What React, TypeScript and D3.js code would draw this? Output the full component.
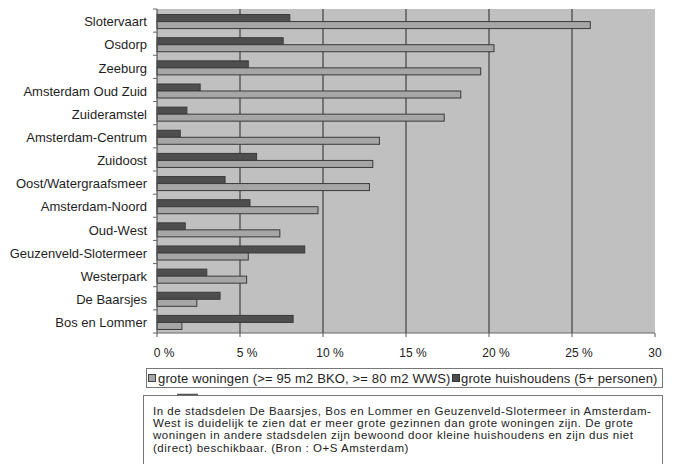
import React from "react";
import * as d3 from "d3";

// Stadsdelen, top to bottom
const categories = [
  "Slotervaart",
  "Osdorp",
  "Zeeburg",
  "Amsterdam Oud Zuid",
  "Zuideramstel",
  "Amsterdam-Centrum",
  "Zuidoost",
  "Oost/Watergraafsmeer",
  "Amsterdam-Noord",
  "Oud-West",
  "Geuzenveld-Slotermeer",
  "Westerpark",
  "De Baarsjes",
  "Bos en Lommer",
];

// Percentage of large dwellings (>= 95 m2 BKO, >= 80 m2 WWS)
const groteWoningen = [26.1, 20.3, 19.5, 18.3, 17.3, 13.4, 13.0, 12.8, 9.7, 7.4, 5.5, 5.4, 2.4, 1.5];
// Percentage of large households (5+ persons)
const groteHuishoudens = [8.0, 7.6, 5.5, 2.6, 1.8, 1.4, 6.0, 4.1, 5.6, 1.7, 8.9, 3.0, 3.8, 8.2];

const tickValues = [0, 5, 10, 15, 20, 25, 30];
const tickLabels = ["0", "5", "10", "15", "20", "25", "30"];
const tickSuffix = [" %", " %", " %", " %", " %", " %", ""];

const legendLabels = [
  "grote woningen (>= 95 m2 BKO, >= 80 m2 WWS)",
  "grote huishoudens (5+ personen)",
];

const noteLines = [
  "In de stadsdelen De Baarsjes, Bos en Lommer en Geuzenveld-Slotermeer in Amsterdam-",
  "West is duidelijk te zien dat er meer grote gezinnen dan grote woningen zijn. De grote",
  "woningen in andere stadsdelen zijn bewoond door kleine huishoudens en zijn dus niet",
  "(direct) beschikbaar. (Bron : O+S Amsterdam)",
];

const W = 674;
const H = 464;
const plot = { left: 157, right: 655, top: 9, bottom: 333 };
const font = "'Liberation Sans', Arial, sans-serif";

const lightFill = "#a6a6a6";
const darkFill = "#4e4e4e";
const barStroke = "#3a3a3a";

export default function App() {
  const x = d3.scaleLinear().domain([0, 30]).range([plot.left, plot.right]);
  const y = d3
    .scaleBand<string>()
    .domain(categories)
    .range([plot.top + 1, plot.bottom + 1])
    .paddingInner(0)
    .paddingOuter(0);
  const bw = y.bandwidth();
  const barH = bw / 1.65 / 2;

  return (
    <svg
      width={W}
      height={H}
      style={{ position: "absolute", left: 0, top: 0, background: "#fff" }}
      fontFamily={font}
    >
      {/* plot background */}
      <rect
        x={plot.left}
        y={plot.top}
        width={plot.right - plot.left}
        height={plot.bottom - plot.top}
        fill="#c0c0c0"
      />
      {/* vertical gridlines */}
      {tickValues.slice(1, -1).map((t) => (
        <line
          key={t}
          x1={x(t)}
          x2={x(t)}
          y1={plot.top}
          y2={plot.bottom}
          stroke="#4a4a4a"
          strokeWidth={1.3}
        />
      ))}
      {/* bars */}
      {categories.map((c, i) => {
        const cy = (y(c) as number) + bw / 2;
        return (
          <g key={c}>
            <rect
              x={x(0)}
              y={cy - barH}
              width={x(groteHuishoudens[i]) - x(0)}
              height={barH}
              fill={darkFill}
              stroke={barStroke}
              strokeWidth={1}
            />
            <rect
              x={x(0)}
              y={cy}
              width={x(groteWoningen[i]) - x(0)}
              height={barH}
              fill={lightFill}
              stroke={barStroke}
              strokeWidth={1}
            />
            <text
              x={147}
              y={cy}
              dy="0.36em"
              textAnchor="end"
              fontSize={13}
              fill="#1e1e1e"
            >
              {c}
            </text>
          </g>
        );
      })}
      {/* left axis */}
      <line x1={plot.left} x2={plot.left} y1={plot.top} y2={plot.bottom} stroke="#555" strokeWidth={1.2} />
      {categories.map((c) => (
        <line
          key={c}
          x1={plot.left - 4}
          x2={plot.left}
          y1={(y(c) as number) - 1}
          y2={(y(c) as number) - 1}
          stroke="#666"
        />
      ))}
      <line x1={plot.left - 4} x2={plot.left} y1={plot.bottom} y2={plot.bottom} stroke="#666" />
      {/* bottom axis */}
      <line x1={plot.left} x2={plot.right} y1={plot.bottom} y2={plot.bottom} stroke="#666" strokeWidth={1.2} />
      {tickValues.map((t, i) => {
        const half = tickLabels[i].length * 3.35;
        return (
          <g key={t}>
            <line x1={x(t)} x2={x(t)} y1={plot.bottom} y2={plot.bottom + 4} stroke="#555" />
            <text x={x(t) - half} y={357} fontSize={12} fill="#222">
              {tickLabels[i] + tickSuffix[i]}
            </text>
          </g>
        );
      })}
      {/* legend */}
      <rect x={146.5} y={368.5} width={516} height={19} fill="#fff" stroke="#777" />
      <rect x={148.5} y={374.5} width={7} height={7} fill={lightFill} stroke="#444" />
      <text x={158} y={383} fontSize={13} letterSpacing={0.15} fill="#1e1e1e">
        {legendLabels[0]}
      </text>
      <rect x={452.5} y={374.5} width={7} height={7} fill={darkFill} stroke="#333" />
      <text x={461} y={383} fontSize={13} letterSpacing={0.15} fill="#1e1e1e">
        {legendLabels[1]}
      </text>
      {/* note box */}
      <rect x={143.5} y={395.5} width={519} height={80} fill="#fff" stroke="#777" />
      <line x1={177} x2={198} y1={394.5} y2={394.5} stroke="#555" strokeWidth={1.5} />
      {noteLines.map((line, i) => (
        <text
          key={i}
          x={153}
          y={415 + i * 12.2}
          fontSize={11.5}
          letterSpacing={0.52}
          fill="#222"
        >
          {line}
        </text>
      ))}
    </svg>
  );
}
